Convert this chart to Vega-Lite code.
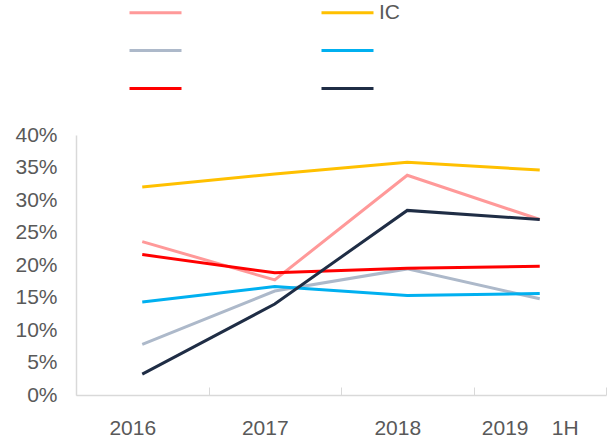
{
  "$schema": "https://vega.github.io/schema/vega-lite/v6.json",
  "width": 530,
  "height": 260,
  "autosize": "none",
  "padding": {"left": 76, "top": 135, "right": 2, "bottom": 49},
  "background": "white",
  "config": {
    "view": {"stroke": null},
    "font": "Liberation Sans"
  },
  "data": {
    "values": [
      {"year": "2016", "series": "S1", "value": 23.6},
      {"year": "2017", "series": "S1", "value": 17.7},
      {"year": "2018", "series": "S1", "value": 33.8},
      {"year": "2019\u00a0\u00a0\u00a0\u00a01H", "series": "S1", "value": 27.0},
      {"year": "2016", "series": "IC", "value": 32.0},
      {"year": "2017", "series": "IC", "value": 34.0},
      {"year": "2018", "series": "IC", "value": 35.8},
      {"year": "2019\u00a0\u00a0\u00a0\u00a01H", "series": "IC", "value": 34.6},
      {"year": "2016", "series": "S3", "value": 7.8},
      {"year": "2017", "series": "S3", "value": 16.0},
      {"year": "2018", "series": "S3", "value": 19.4},
      {"year": "2019\u00a0\u00a0\u00a0\u00a01H", "series": "S3", "value": 14.8},
      {"year": "2016", "series": "S4", "value": 14.3},
      {"year": "2017", "series": "S4", "value": 16.7},
      {"year": "2018", "series": "S4", "value": 15.3},
      {"year": "2019\u00a0\u00a0\u00a0\u00a01H", "series": "S4", "value": 15.6},
      {"year": "2016", "series": "S5", "value": 21.6},
      {"year": "2017", "series": "S5", "value": 18.8},
      {"year": "2018", "series": "S5", "value": 19.5},
      {"year": "2019\u00a0\u00a0\u00a0\u00a01H", "series": "S5", "value": 19.8},
      {"year": "2016", "series": "S6", "value": 3.2},
      {"year": "2017", "series": "S6", "value": 14.0},
      {"year": "2018", "series": "S6", "value": 28.4},
      {"year": "2019\u00a0\u00a0\u00a0\u00a01H", "series": "S6", "value": 27.0}
    ]
  },
  "mark": {"type": "line", "strokeWidth": 3},
  "encoding": {
    "x": {
      "field": "year",
      "type": "nominal",
      "sort": null,
      "scale": {"type": "band", "paddingInner": 0, "paddingOuter": 0},
      "axis": {
        "title": null,
        "labelAngle": 0,
        "labelFontSize": 21,
        "labelColor": "#595959",
        "labelPadding": 30,
        "labelOffset": -10,
        "domainColor": "#D9D9D9",
        "domainWidth": 1.5,
        "tickColor": "#D9D9D9",
        "tickSize": -8,
        "tickWidth": 1,
        "tickBand": "extent"
      }
    },
    "y": {
      "field": "value",
      "type": "quantitative",
      "scale": {"domain": [0, 40], "nice": false},
      "axis": {
        "title": null,
        "values": [0, 5, 10, 15, 20, 25, 30, 35, 40],
        "labelExpr": "datum.value + '%'",
        "labelFontSize": 21,
        "labelColor": "#595959",
        "labelPadding": 19,
        "grid": false,
        "ticks": false,
        "domainColor": "#D9D9D9",
        "domainWidth": 1.5
      }
    },
    "color": {
      "field": "series",
      "type": "nominal",
      "scale": {
        "domain": ["S1", "IC", "S3", "S4", "S5", "S6"],
        "range": ["#FF9999", "#FFC000", "#ADB9CA", "#00B0F0", "#FF0000", "#1F2D45"]
      },
      "legend": {
        "title": null,
        "orient": "none",
        "legendX": 52,
        "legendY": -150,
        "direction": "horizontal",
        "columns": 2,
        "columnPadding": 127,
        "rowPadding": 0,
        "symbolType": "stroke",
        "symbolSize": 2704,
        "symbolStrokeWidth": 3,
        "labelOffset": 4,
        "labelFontSize": 21,
        "labelColor": "#595959",
        "labelExpr": "datum.value == 'IC' ? 'IC' : ''"
      }
    }
  }
}
